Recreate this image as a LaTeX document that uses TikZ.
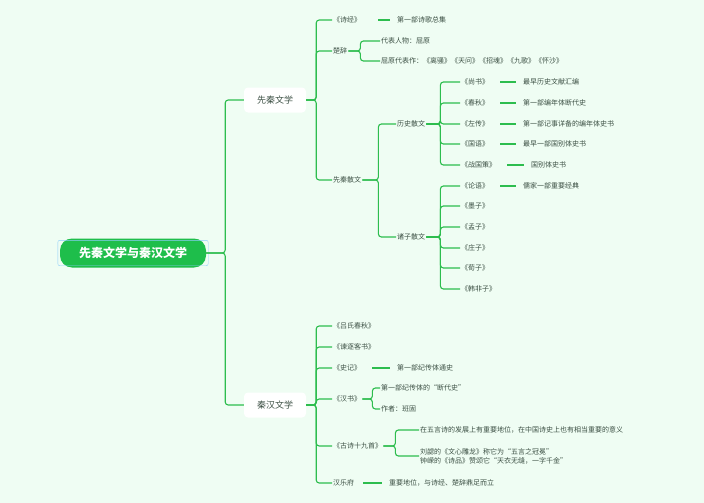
\documentclass[tikz,border=0pt]{standalone}
\usepackage{fontspec}
\setmainfont{Noto Sans CJK SC}
\usetikzlibrary{positioning}
\definecolor{bgcolor}{RGB}{239,253,243}
\definecolor{linecolor}{RGB}{45,189,78}
\definecolor{txtcolor}{RGB}{60,80,68}
\definecolor{rootcolor}{RGB}{30,190,75}
\definecolor{selcolor}{RGB}{140,205,250}
\tikzset{
  br/.style={linecolor, line width=1.1pt, rounded corners=3pt},
  leaf/.style={anchor=west, inner sep=1pt, text=txtcolor, font=\fontsize{7}{9}\selectfont},
  topic/.style={fill=white, rounded corners=4pt, minimum width=62pt, minimum height=25pt, text=txtcolor, font=\fontsize{9}{11}\selectfont},
  rootbox/.style={fill=rootcolor, rounded corners=12pt, minimum width=146pt, minimum height=29pt, text=white, font=\fontsize{12}{14}\selectfont\bfseries}
}
\begin{document}
\begin{tikzpicture}[x=1pt, y=-1pt]
  \fill[bgcolor] (0,0) rectangle (704,503);
  \useasboundingbox (0,0) rectangle (704,503);

  % root and topics
  \node[rootbox] (root) at (133,253) {先秦文学与秦汉文学};
  \draw[selcolor, rounded corners=2pt] ([shift={(-2,-2)}]root.south west) rectangle ([shift={(2,2)}]root.north east);
  \node[topic] (xq) at (275,100) {先秦文学};
  \node[topic] (qh) at (275,405) {秦汉文学};
  \draw[br] (root.east) -- ++(19,0) |- (xq.west);
  \draw[br] (root.east) -- ++(19,0) |- (qh.west);

  % 先秦文学
  \node[leaf] (sj) at (332,20) {《诗经》};
  \node[leaf] (cc) at (332,51) {楚辞};
  \node[leaf] (sw) at (332,180) {先秦散文};
  \foreach \c in {sj,cc,sw} \draw[br] (xq.east) -- ++(10,0) |- (\c.west);
  \node[leaf] (sjd) at (396,20) {第一部诗歌总集};
  \draw[br, shorten <=16pt, shorten >=6pt] (sj.east) -- (sjd.west);
  \node[leaf] (cc1) at (380,41) {代表人物：屈原};
  \node[leaf] (cc2) at (380,61) {屈原代表作：《离骚》《天问》《招魂》《九歌》《怀沙》};
  \foreach \c in {cc1,cc2} \draw[br] (cc.east) -- ++(12,0) |- (\c.west);
  \node[leaf] (ls) at (396,124) {历史散文};
  \node[leaf] (zz) at (396,237) {诸子散文};
  \foreach \c in {ls,zz} \draw[br] (sw.east) -- ++(16,0) |- (\c.west);

  % 历史散文
  \foreach \n/\t/\y/\d/\dx in {ss/《尚书》/82/最早历史文献汇编/522,
                              cq/《春秋》/103/第一部编年体断代史/522,
                              zc/《左传》/124/第一部记事详备的编年体史书/522,
                              gy/《国语》/144/最早一部国别体史书/522,
                              zg/《战国策》/165/国别体史书/530} {
    \node[leaf] (\n) at (460,\y) {\t};
    \node[leaf] (\n d) at (\dx,\y) {\d};
    \draw[br] (ls.east) -- ++(14,0) |- (\n.west);
    \draw[br, shorten <=10pt, shorten >=6pt] (\n.east) -- (\n d.west);
  }

  % 诸子散文
  \foreach \n/\t/\y in {ly/《论语》/186, mz/《墨子》/206, mzi/《孟子》/227,
                        zzi/《庄子》/248, xz/《荀子》/268, hf/《韩非子》/289} {
    \node[leaf] (\n) at (460,\y) {\t};
    \draw[br] (zz.east) -- ++(14,0) |- (\n.west);
  }
  \node[leaf] (lyd) at (522,186) {儒家一部重要经典};
  \draw[br, shorten <=10pt, shorten >=6pt] (ly.east) -- (lyd.west);

  % 秦汉文学
  \node[leaf] (lc) at (332,326) {《吕氏春秋》};
  \node[leaf] (jz) at (332,347) {《谏逐客书》};
  \node[leaf] (sji) at (332,368) {《史记》};
  \node[leaf] (hs) at (332,399) {《汉书》};
  \node[leaf] (gs) at (332,446) {《古诗十九首》};
  \node[leaf] (hy) at (332,483) {汉乐府};
  \foreach \c in {lc,jz,sji,hs,gs,hy} \draw[br] (qh.east) -- ++(10,0) |- (\c.west);

  \node[leaf] (sjid) at (396,368) {第一部纪传体通史};
  \draw[br, shorten <=10pt, shorten >=6pt] (sji.east) -- (sjid.west);
  \node[leaf] (hs1) at (380,388) {第一部纪传体的“断代史”};
  \node[leaf] (hs2) at (380,409) {作者：班固};
  \foreach \c in {hs1,hs2} \draw[br] (hs.east) -- ++(10,0) |- (\c.west);
  \node[leaf] (gs1) at (419,430) {在五言诗的发展上有重要地位，在中国诗史上也有相当重要的意义};
  \node[leaf, align=left] (gs2) at (419,456) {刘勰的《文心雕龙》称它为“五言之冠冕”\\钟嵘的《诗品》赞颂它“天衣无缝，一字千金”};
  \foreach \c in {gs1,gs2} \draw[br] (gs.east) -- ++(12,0) |- (\c.west);
  \node[leaf] (hyd) at (388,483) {重要地位，与诗经、楚辞鼎足而立};
  \draw[br, shorten <=8pt, shorten >=6pt] (hy.east) -- (hyd.west);
\end{tikzpicture}
\end{document}
